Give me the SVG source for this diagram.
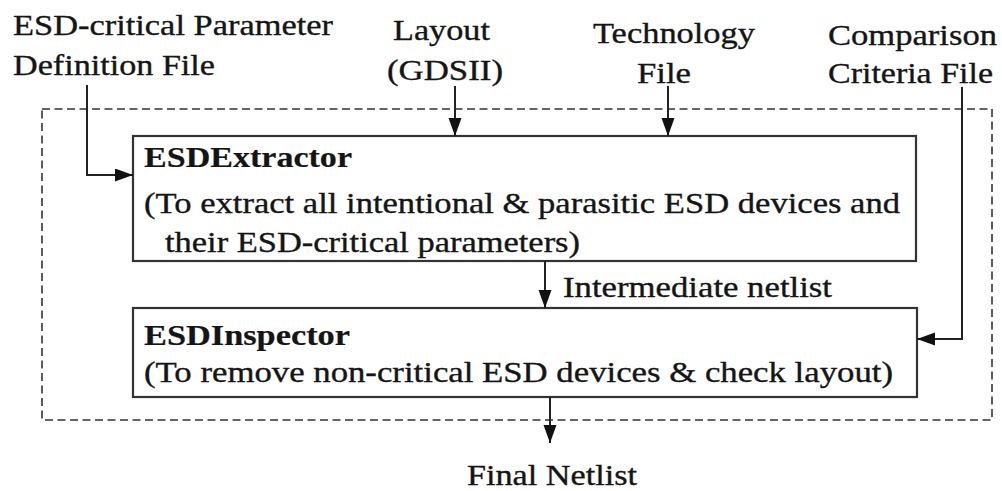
<svg xmlns="http://www.w3.org/2000/svg" width="1002" height="491" viewBox="0 0 1002 491">
<defs>
<style>
text{font-family:"Liberation Serif","Times New Roman",serif;font-size:30px;fill:#151515;stroke:#151515;stroke-width:0.35}
.b{font-weight:bold;stroke-width:0.2}
.box{fill:#fff;stroke:#333;stroke-width:2.2}
.dash{fill:none;stroke:#333;stroke-width:1.6;stroke-dasharray:8 4.5}
.conn{fill:none;stroke:#222;stroke-width:2}
</style>
<marker id="ah" markerUnits="userSpaceOnUse" markerWidth="20" markerHeight="14" refX="18" refY="6.5" orient="auto">
<path d="M0,0 L18,6.5 L0,13 z" fill="#111"/>
</marker>
</defs>
<rect width="1002" height="491" fill="#fff"/>
<rect class="dash" x="42" y="109" width="950" height="311"/>
<g id="inputs">
<text x="13" y="35" textLength="320" lengthAdjust="spacingAndGlyphs">ESD-critical Parameter</text>
<text x="13" y="75" textLength="202" lengthAdjust="spacingAndGlyphs">Definition File</text>
<text x="393" y="40" textLength="97" lengthAdjust="spacingAndGlyphs">Layout</text>
<text x="387" y="80" textLength="116" lengthAdjust="spacingAndGlyphs">(GDSII)</text>
<text x="593" y="43" textLength="162" lengthAdjust="spacingAndGlyphs">Technology</text>
<text x="637" y="83" textLength="54" lengthAdjust="spacingAndGlyphs">File</text>
<text x="828" y="45" textLength="169" lengthAdjust="spacingAndGlyphs">Comparison</text>
<text x="828" y="83" textLength="165" lengthAdjust="spacingAndGlyphs">Criteria File</text>
</g>
<g id="extractor">
<rect class="box" x="133" y="136" width="783" height="125"/>
<text class="b" x="144" y="167" textLength="208" lengthAdjust="spacingAndGlyphs">ESDExtractor</text>
<text x="144" y="213" textLength="756" lengthAdjust="spacingAndGlyphs">(To extract all intentional &amp; parasitic ESD devices and</text>
<text x="165" y="252" textLength="415" lengthAdjust="spacingAndGlyphs">their ESD-critical parameters)</text>
</g>
<g id="inspector">
<rect class="box" x="133" y="308" width="784" height="89"/>
<text class="b" x="144" y="345" textLength="206" lengthAdjust="spacingAndGlyphs">ESDInspector</text>
<text x="144" y="382" textLength="749" lengthAdjust="spacingAndGlyphs">(To remove non-critical ESD devices &amp; check layout)</text>
</g>
<g id="output">
<text x="467" y="485" textLength="170" lengthAdjust="spacingAndGlyphs">Final Netlist</text>
</g>
<g id="connectors">
<path class="conn" d="M87,85 V175 H133" marker-end="url(#ah)"/>
<path class="conn" d="M455,86 V136" marker-end="url(#ah)"/>
<path class="conn" d="M668,86 V136" marker-end="url(#ah)"/>
<path class="conn" d="M962,87 V339 H917" marker-end="url(#ah)"/>
<path class="conn" d="M545,261 V308" marker-end="url(#ah)"/>
<path class="conn" d="M550,397 V443" marker-end="url(#ah)"/>
<text x="563" y="297" textLength="269" lengthAdjust="spacingAndGlyphs">Intermediate netlist</text>
</g>
</svg>
